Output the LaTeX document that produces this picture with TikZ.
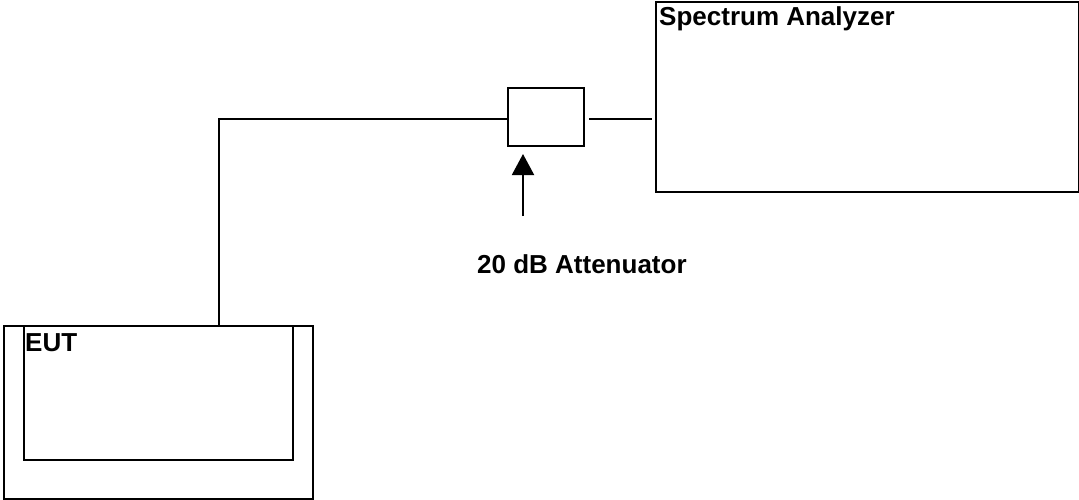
\documentclass[tikz,border=0pt]{standalone}
\usepackage{fontspec}
\setmainfont{Liberation Sans}
\usetikzlibrary{arrows.meta}
\begin{document}
\begin{tikzpicture}[x=1pt,y=-1pt,
  box/.style={draw, line width=2pt, inner sep=0pt, anchor=north west},
  conn/.style={line width=2pt},
  lbl/.style={font=\fontsize{26}{30}\selectfont\bfseries, inner sep=0pt, anchor=base west}]
\useasboundingbox (0,0) rectangle (1079,499);
\node[box, minimum width=423pt, minimum height=190pt] (sa) at (655,1) {};
\node[box, minimum width=76pt, minimum height=58pt] (att) at (507,87) {};
\node[box, minimum width=309pt, minimum height=173pt] (eutout) at (3,325) {};
\node[box, minimum width=269pt, minimum height=134pt] (eutin) at (23,325) {};
\node[lbl] (salbl) at (659,25) {Spectrum Analyzer};
\node[lbl] (eutlbl) at (25,351) {EUT};
\node[lbl] (attlbl) at (477,273) {20 dB Attenuator};
\coordinate (corner) at (219,119);
\coordinate (arrowfoot) at (523,216);
\draw[conn] (eutin.north -| corner) -- (corner) -- (att.west |- corner);
\draw[conn] ([xshift=4pt]att.east |- corner) -- ([xshift=-3pt]sa.west |- corner);
\draw[conn, -{Triangle[length=21pt,width=22pt]}] (arrowfoot) -- ([yshift=-7pt]att.south -| arrowfoot);
\end{tikzpicture}
\end{document}
